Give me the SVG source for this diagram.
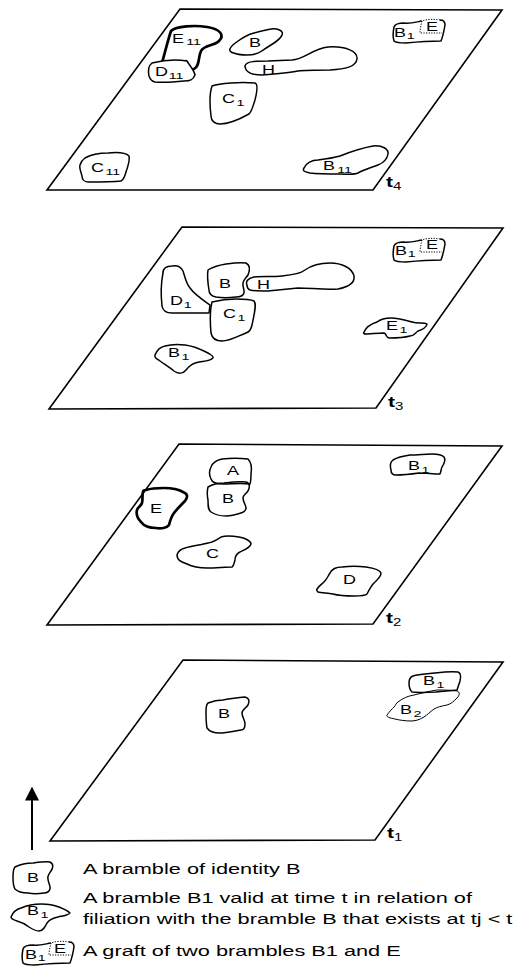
<svg xmlns="http://www.w3.org/2000/svg" xmlns:xlink="http://www.w3.org/1999/xlink" width="518" height="967" viewBox="0 0 518 967">
<style>
.plane{fill:none;stroke:#000;stroke-width:1.6;stroke-linejoin:miter}
.br{fill:none;stroke:#000;stroke-width:1.5;stroke-linejoin:round}
.brw{fill:#fff;stroke:#000;stroke-width:1.5;stroke-linejoin:round}
.thick{fill:none;stroke:#000;stroke-width:2.7;stroke-linejoin:round;stroke-linecap:round}
.thin{fill:none;stroke:#000;stroke-width:1;stroke-linejoin:round}
.dot{fill:none;stroke:#000;stroke-width:1;stroke-dasharray:1.2,1.4}
text{font-family:"Liberation Sans",Arial,Helvetica,sans-serif;fill:#000}
.lbl{font-size:12px}
.sub{font-size:9.5px}
.tl{font-size:14px;font-weight:bold}
.tsub{font-size:10px;font-weight:normal}
.leg{font-size:14.5px}
</style>
<defs>
<marker id="arrowHead" viewBox="0 0 10 10" refX="9" refY="5" markerWidth="7" markerHeight="7" markerUnits="strokeWidth" orient="auto">
<path d="M0,0 L10,5 L0,10 Z" fill="#000"/>
</marker>
<g id="graftShape">
<path class="br" d="M30,3 C24,4 18,6 12,5 C7,5 3,6 2,9 C1,14 1,20 2,23 C4,25 9,25 14,25 C24,24 36,23 49,23 C51,18 52,13 53,7 C53,4 51,2 48,2"/>
<path class="dot" d="M48,2 C42,1 35,1 30,3 C29,7 28,11 28,15 L50,15"/>
</g>
</defs>
<rect width="518" height="967" fill="#fff"/>

<!-- Plane t4 -->
<g id="plane-t4">
<path class="plane" d="M180,9 L502,10 L373,190 L47,190 Z"/>
<text class="tl" transform="translate(386,187) scale(1.5,1)">t<tspan class="tsub" dy="3">4</tspan></text>
</g>
<g id="t4-E11">
<path class="thick" d="M162,63 C165,52 168,40 171,31 C176,26 195,25 207,27 C220,29 225,35 219,41 C214,46 204,45 201,51 C198,57 200,66 194,69 C189,71 186,66 186,61"/>
<text class="lbl" transform="translate(172,43) scale(1.5,1)">E<tspan class="sub" dx="1.5" dy="2">11</tspan></text>
</g>
<g id="t4-D11">
<path class="brw" d="M152,63 C160,61 175,59 187,61 C190,66 194,70 195,75 C193,80 190,81 184,81 C175,82 165,83 155,82 C151,81 150,79 149,76 C148,71 148,66 152,63 Z"/>
<text class="lbl" transform="translate(155,76) scale(1.5,1)">D<tspan class="sub" dx="0.5" dy="3">11</tspan></text>
</g>
<g id="t4-B">
<path class="br" d="M232,52.5 Q226,50 236,42.5 Q246,35 254,33 Q262,31 268.5,29.5 Q275,28 279.5,30 Q284,32 281.5,36 Q279,40 272.5,44 Q266,48 261,51.5 Q256,55 247,55 Q238,55 232,52.5 Z"/>
<text class="lbl" transform="translate(249,47) scale(1.5,1)">B</text>
</g>
<g id="t4-H">
<path class="br" d="M245,66 C246,61 256,61 268,61 L292,60 C305,59 312,49 328,47 C345,46 358,51 357,59 C356,67 345,69 330,70 C318,70 305,70 298,71 C288,73 275,74 262,75 C252,75 245,72 245,66 Z"/>
<text class="lbl" transform="translate(262,74) scale(1.5,1)">H</text>
</g>
<g id="t4-C1">
<path class="br" d="M212,86 C220,83 240,82 255,83 C258,84 257,92 255,100 C253,106 252,111 249,114 C240,119 228,124 220,124 C215,124 211,121 211,116 C210,108 209,95 212,86 Z"/>
<text class="lbl" transform="translate(222,103) scale(1.5,1)">C<tspan class="sub" dx="1" dy="3">1</tspan></text>
</g>
<g id="t4-C11">
<path class="br" d="M85,158 C92,154 100,153 108,153 C118,152 126,153 129,156 C130,161 128,165 127,169 C125,174 125,179 121,181 C112,182 98,182 88,182 C84,182 82,179 82,176 C81,172 79,168 80,165 C81,162 82,160 85,158 Z"/>
<text class="lbl" transform="translate(91,172) scale(1.5,1)">C<tspan class="sub" dx="1" dy="3">11</tspan></text>
</g>
<g id="t4-B11">
<path class="br" d="M304,168 C306,163 312,160 318,160 C326,159 333,158 340,156 C350,152 362,148 373,146 C382,145 389,149 388,154 C387,160 383,163 378,165 C370,168 363,170 358,173 C354,175 348,174 340,174 C330,174 318,174 310,173 C305,172 302,171 304,168 Z"/>
<text class="lbl" transform="translate(323,170) scale(1.5,1)">B<tspan class="sub" dx="1.5" dy="3">11</tspan></text>
</g>
<g id="t4-graft-B1-E">
<use xlink:href="#graftShape" href="#graftShape" transform="translate(392,18)"/>
<text class="lbl" transform="translate(394,37) scale(1.5,1)">B<tspan class="sub" dx="0.5" dy="2">1</tspan></text>
<text class="lbl" transform="translate(426,31) scale(1.5,1)">E</text>
</g>

<!-- Plane t3 -->
<g id="plane-t3">
<path class="plane" d="M182,227 L503,228 L376,408 L49,409 Z"/>
<text class="tl" transform="translate(388,407) scale(1.5,1)">t<tspan class="tsub" dy="3">3</tspan></text>
</g>
<g id="t3-D1">
<path class="brw" d="M163,273 C163,268 167,266 172,266 C177,265 181,267 183,271 C185,277 186,283 190,288 C195,295 203,300 210,305 L209,313 C198,313 185,313 172,313 C167,313 163,312 162,306 C161,297 161,283 163,273 Z"/>
<text class="lbl" transform="translate(170,305) scale(1.5,1)">D<tspan class="sub" dx="0.5" dy="3">1</tspan></text>
</g>
<g id="t3-H">
<path class="brw" d="M247,285 C245,281 249,278 254,277 C262,276 272,277 282,276 C292,275 300,274 305,270 C312,265 320,263 330,263 C342,263 352,268 354,276 C355,283 348,287 338,289 C325,290 310,288 298,288 C288,289 278,290 268,291 C260,291 254,291 250,290 C248,289 247,287 247,285 Z"/>
<text class="lbl" transform="translate(257,289) scale(1.5,1)">H</text>
</g>
<g id="t3-B">
<path class="brw" d="M208,270 C214,266 220,265 226,264 C233,263 240,262 246,263 C250,265 250,270 248,275 C246,278 243,280 243,283 C242,287 245,290 244,293 C243,296 240,297 236,297 C228,298 222,298 216,297 C211,296 209,294 209,290 C208,284 207,276 208,270 Z"/>
<text class="lbl" transform="translate(219,288) scale(1.5,1)">B</text>
</g>
<g id="t3-C1">
<path class="brw" d="M212,302 C220,300 228,299 236,299 C244,299 250,299 254,301 C257,304 254,315 252,325 C251,330 249,332 246,333 C238,336 230,341 222,341 C216,341 212,338 211,333 C210,322 210,310 212,302 Z"/>
<text class="lbl" transform="translate(223,318) scale(1.5,1)">C<tspan class="sub" dx="1" dy="3">1</tspan></text>
</g>
<g id="t3-B1">
<path class="br" d="M155,355 C157,350 160,347 165,346 C172,344 178,344 185,345 C193,346 200,349 206,352 C210,354 214,356 213,358 C210,361 205,361 199,362 C193,363 189,366 186,370 C183,374 178,374 174,371 C169,367 164,364 160,361 C157,359 154,358 155,355 Z"/>
<text class="lbl" transform="translate(168,357) scale(1.5,1)">B<tspan class="sub" dx="1" dy="3">1</tspan></text>
</g>
<g id="t3-E1">
<path class="br" d="M364,332 C366,327 371,324 377,322 C381,319 386,318 391,318 C398,318 405,320 412,322 C418,324 424,322 427,324 C427,327 422,330 418,331 C415,333 414,336 410,336 C403,338 395,338 389,338 C386,338 387,334 384,333 C378,333 370,334 366,334 C364,334 363,333 364,332 Z"/>
<text class="lbl" transform="translate(386,330) scale(1.5,1)">E<tspan class="sub" dx="1" dy="3">1</tspan></text>
</g>
<g id="t3-graft-B1-E">
<use xlink:href="#graftShape" href="#graftShape" transform="translate(392,237)"/>
<text class="lbl" transform="translate(395,255) scale(1.5,1)">B<tspan class="sub" dx="0.5" dy="2">1</tspan></text>
<text class="lbl" transform="translate(426,249) scale(1.5,1)">E</text>
</g>

<!-- Plane t2 -->
<g id="plane-t2">
<path class="plane" d="M179,444 L502,446 L373,624 L47,625 Z"/>
<text class="tl" transform="translate(386,623) scale(1.5,1)">t<tspan class="tsub" dy="3">2</tspan></text>
</g>
<g id="t2-A">
<path class="br" d="M211,467 C213,462 217,460 222,459 C230,458 240,458 248,459 C251,462 252,468 251,474 C251,478 251,481 250,484 C241,483 232,484 223,484 C217,484 212,482 211,479 C209,475 209,471 211,467 Z"/>
<text class="lbl" transform="translate(227,475) scale(1.5,1)">A</text>
</g>
<g id="t2-B">
<path class="br" d="M208,487 C213,484 218,483 224,483 C232,482 240,481 246,482 C250,483 250,487 248,491 C246,494 243,495 243,498 C243,502 246,505 246,508 C246,511 244,512 241,513 C235,515 231,516 226,516 C219,516 214,514 211,512 C208,510 208,506 208,500 C207,495 207,491 208,487 Z"/>
<text class="lbl" transform="translate(222,503) scale(1.5,1)">B</text>
</g>
<g id="t2-E">
<path class="thick" d="M146,490 C152,488 158,488 164,488 C172,488 178,489 183,492 C188,494 188,497 185,501 C181,505 177,509 174,513 C171,517 170,521 169,525 C167,528 161,529 156,528 C150,528 144,526 141,522 C137,518 136,514 137,510 C138,507 141,506 142,503 C143,499 142,495 143,492 C143,491 144,490 146,490 Z"/>
<text class="lbl" transform="translate(150,513) scale(1.5,1)">E</text>
</g>
<g id="t2-C">
<path class="br" d="M177,555 C178,551 181,549 185,548 C192,546 200,545 208,543 C214,542 218,539 221,537 C227,535 233,536 239,537 C245,538 251,541 251,544 C250,548 244,550 240,552 C236,554 235,557 235,560 C234,563 234,566 232,567 C225,567 216,568 207,568 C200,568 193,567 187,564 C181,562 177,560 177,555 Z"/>
<text class="lbl" transform="translate(206,558) scale(1.5,1)">C</text>
</g>
<g id="t2-B1">
<path class="br" d="M393,460 C398,457 403,456 410,455 C418,455 425,454 432,454 C437,454 442,455 444,457 C446,460 444,464 442,467 C441,469 441,472 440,474 C433,474 426,473 419,473 C412,474 404,475 396,475 C392,475 391,473 391,470 C390,466 390,462 393,460 Z"/>
<text class="lbl" transform="translate(408,470) scale(1.5,1)">B<tspan class="sub" dx="1" dy="3">1</tspan></text>
</g>
<g id="t2-D">
<path class="br" d="M317,589 C319,586 322,584 324,582 C327,579 328,576 330,573 C332,569 336,567 342,567 C350,566 358,566 366,567 C373,568 380,570 381,573 C381,577 377,580 374,583 C371,586 369,590 367,594 C365,596 360,596 354,596 C346,596 340,596 333,594 C327,593 321,593 318,592 C317,591 316,590 317,589 Z"/>
<text class="lbl" transform="translate(343,584) scale(1.5,1)">D</text>
</g>

<!-- Plane t1 -->
<g id="plane-t1">
<path class="plane" d="M183,660 L503,662 L375,840 L50,841 Z"/>
<text class="tl" transform="translate(387,838) scale(1.5,1)">t<tspan class="tsub" dy="3">1</tspan></text>
</g>
<g id="t1-B">
<path class="br" d="M208,703 C213,701 218,700 223,700 C231,699 239,697 245,697 C249,698 250,701 248,705 C246,708 242,710 242,713 C242,717 245,720 245,724 C245,727 244,730 241,730 C234,731 227,733 220,733 C214,733 209,731 207,728 C206,723 206,716 206,711 C206,708 206,705 208,703 Z"/>
<text class="lbl" transform="translate(218,718) scale(1.5,1)">B</text>
</g>
<g id="t1-B1">
<path class="br" d="M409,683 C409,679 410,677 413,676 C420,674 428,674 435,673 C443,672 451,671 458,672 C461,673 461,677 460,681 C459,684 458,687 457,690 C450,691 443,691 436,692 C428,692 420,693 412,692 C410,690 409,686 409,683 Z"/>
<text class="lbl" transform="translate(423,685) scale(1.5,1)">B<tspan class="sub" dx="1" dy="3">1</tspan></text>
</g>
<g id="t1-B2">
<path class="thin" d="M398,702 C403,698 408,696 414,695 C422,693 430,691 437,690 C444,690 451,690 457,691 C460,692 460,695 457,698 C454,701 451,704 447,705 C442,706 437,707 434,709 C430,712 427,715 424,717 C419,720 415,721 411,721 C405,721 399,720 395,719 C390,718 386,717 387,715 C389,712 392,709 394,707 C396,705 396,703 398,702 Z"/>
<text class="lbl" transform="translate(400,714) scale(1.5,1)">B<tspan class="sub" dx="1" dy="3">2</tspan></text>
</g>

<!-- Connectors: time arrow -->
<g id="connectors">
<line x1="32" y1="850" x2="32" y2="788" stroke="#000" stroke-width="2" marker-end="url(#arrowHead)"/>
</g>

<!-- Legend -->
<g id="legend-bramble">
<path class="br" d="M15,867 C21,864 27,863 33,863 C40,862 46,861 50,862 C54,864 53,868 51,871 C49,874 47,876 48,879 C48,883 51,886 50,889 C49,892 47,893 44,893 C38,894 33,894 28,893 C22,893 17,891 15,889 C13,886 13,881 13,877 C13,873 13,869 15,867 Z"/>
<text class="lbl" transform="translate(27,882) scale(1.5,1)">B</text>
<text class="leg" transform="translate(83,874) scale(1.5,1)">A bramble of identity B</text>
</g>
<g id="legend-filiation">
<path class="br" d="M11,917 C13,912 17,909 21,908 C28,905 34,904 41,904 C48,904 54,905 59,907 C64,909 68,911 70,913 C67,916 62,916 58,917 C53,918 49,920 47,923 C45,927 43,931 39,931 C35,931 32,929 29,927 C25,924 21,922 17,921 C14,920 11,919 11,917 Z"/>
<text class="lbl" transform="translate(27,915) scale(1.5,1)">B<tspan class="sub" dx="1" dy="3">1</tspan></text>
<text class="leg" transform="translate(83,903) scale(1.5,1)">A bramble B1 valid at time t in relation of</text>
<text class="leg" transform="translate(83,924) scale(1.5,1)">filiation with the bramble B that exists at tj &lt; t</text>
</g>
<g id="legend-graft">
<use xlink:href="#graftShape" href="#graftShape" transform="translate(21,940)"/>
<text class="lbl" transform="translate(25,959) scale(1.5,1)">B<tspan class="sub" dx="0.5" dy="2">1</tspan></text>
<text class="lbl" transform="translate(54,953) scale(1.5,1)">E</text>
<text class="leg" transform="translate(83,956) scale(1.5,1)">A graft of two brambles B1 and E</text>
</g>
</svg>
